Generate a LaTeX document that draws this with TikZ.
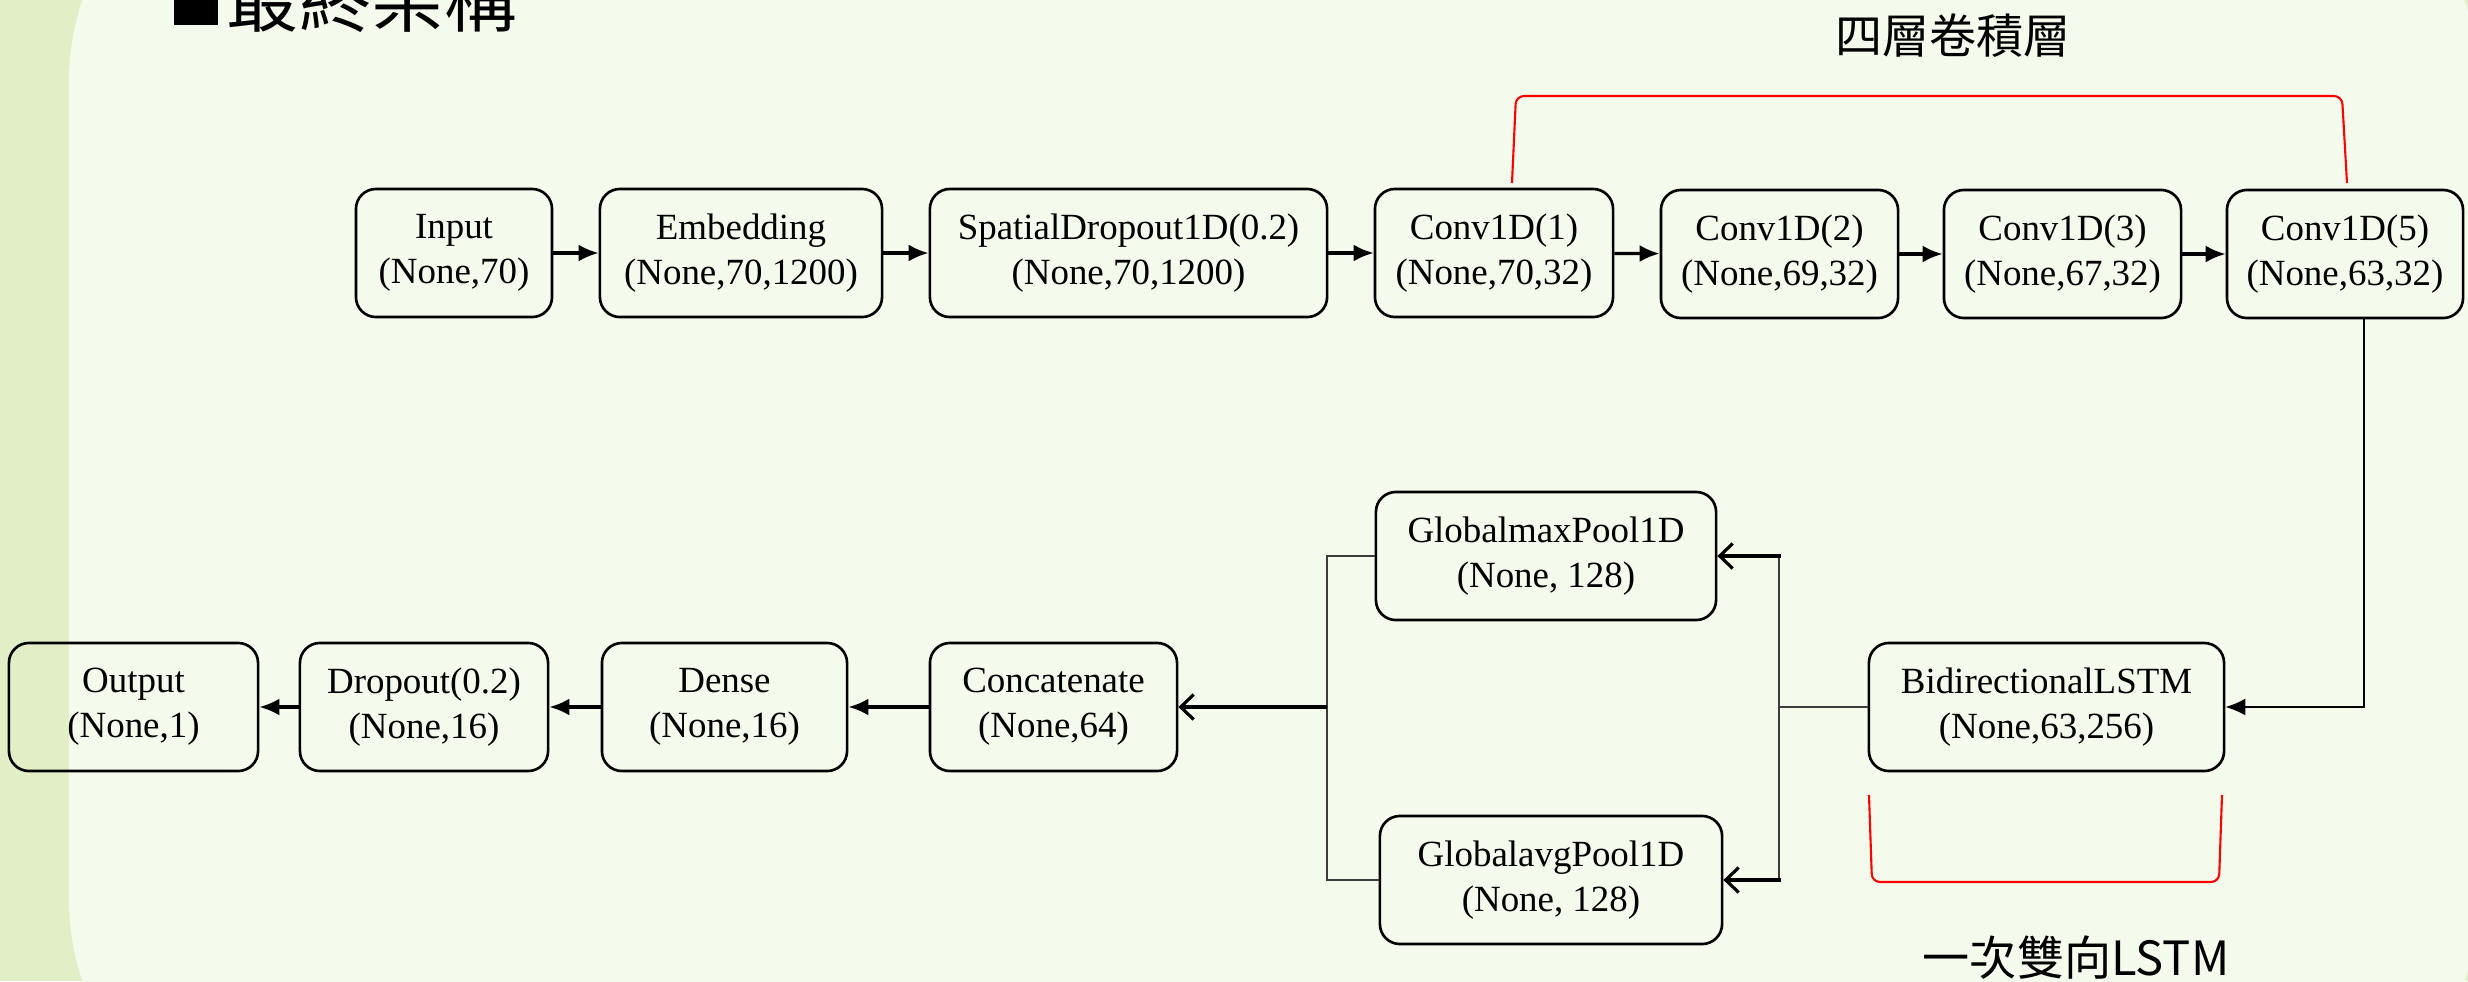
\documentclass[tikz,border=0pt]{standalone}
\usepackage{fontspec}
\setmainfont{Liberation Serif}
\newfontfamily\cjk{Noto Sans CJK TC}
\usetikzlibrary{arrows.meta}
\definecolor{stripgreen}{RGB}{225,238,198}
\definecolor{panelgreen}{RGB}{244,250,236}
\definecolor{wire}{RGB}{60,60,60}
\tikzset{
  layer/.style={draw, line width=0.75pt, rounded corners=0.2cm, align=center,
    inner sep=0pt, minimum height=1.28cm,
    font=\fontsize{10.5pt}{12.9pt}\selectfont},
  flow/.style={line width=0.9pt, -{Latex[length=0.2cm,width=0.17cm]}},
  drop/.style={line width=0.5pt, -{Latex[length=0.2cm,width=0.17cm]}},
  split/.style={line width=0.5pt, draw=wire},
  merge/.style={line width=0.9pt, -{Straight Barb[length=0.13cm,width=0.25cm]}},
  brace/.style={red, line width=0.6pt, rounded corners=0.08cm},
  caption/.style={font=\cjk\fontsize{13.4pt}{15pt}\selectfont, inner sep=0pt}
}
\begin{document}
\begin{tikzpicture}[x=0.01cm,y=-0.01cm]
\useasboundingbox (0,0) rectangle (2468,981);
\clip (0,0) rectangle (2468,981);
% slide background
\fill[stripgreen] (0,0) rectangle (2468,981);
\fill[panelgreen, rounded corners=2.5cm] (69,-169) rectangle (2478,1150);

% heading
\fill (174,-19) rectangle (218,25);
\node[anchor=west, inner sep=0pt, font=\cjk\fontsize{20.6pt}{22pt}\selectfont] (title) at (226,-1) {最終架構};

% first row
\node[layer, minimum width=1.96cm] (in)   at (454,253)    {Input\\(None,70)};
\node[layer, minimum width=2.82cm] (emb)  at (741,253)    {Embedding\\(None,70,1200)};
\node[layer, minimum width=3.97cm] (sdo)  at (1128.5,253) {SpatialDropout1D(0.2)\\(None,70,1200)};
\node[layer, minimum width=2.38cm] (c1)   at (1494,253)   {Conv1D(1)\\(None,70,32)};
\node[layer, minimum width=2.37cm] (c2)   at (1779.5,254) {Conv1D(2)\\(None,69,32)};
\node[layer, minimum width=2.37cm] (c3)   at (2062.5,254) {Conv1D(3)\\(None,67,32)};
\node[layer, minimum width=2.36cm] (c5)   at (2345,254)   {Conv1D(5)\\(None,63,32)};

% second row
\node[layer, minimum width=2.49cm] (out)  at (133.5,707)  {Output\\(None,1)};
\node[layer, minimum width=2.48cm] (dro)  at (424,707)    {Dropout(0.2)\\(None,16)};
\node[layer, minimum width=2.45cm] (den)  at (724.5,707)  {Dense\\(None,16)};
\node[layer, minimum width=2.47cm] (cat)  at (1053.5,707) {Concatenate\\(None,64)};
\node[layer, minimum width=3.55cm] (bi)   at (2046.5,707) {BidirectionalLSTM\\(None,63,256)};

% pooling branches
\node[layer, minimum width=3.40cm] (gmax) at (1546,556)   {GlobalmaxPool1D\\(None, 128)};
\node[layer, minimum width=3.42cm] (gavg) at (1551,880)   {GlobalavgPool1D\\(None, 128)};

% connectors
\draw[flow] (in) -- (emb);
\draw[flow] (emb) -- (sdo);
\draw[flow] (sdo) -- (c1);
\draw[flow] (c1) -- (c2);
\draw[flow] (c2) -- (c3);
\draw[flow] (c3) -- (c5);
\draw[drop] ([xshift=0.19cm]c5.south) |- (bi.east);

\coordinate (fork) at (1779,707);
\coordinate (join) at (1327,707);
\draw[split] (bi.west) -- (fork);
\draw[split] (fork) -- (fork |- gmax.east);
\draw[split] (fork) -- (fork |- gavg.east);
\draw[merge] ([xshift=0.02cm]fork |- gmax.east) -- (gmax.east);
\draw[merge] ([xshift=0.02cm]fork |- gavg.east) -- (gavg.east);
\draw[split] (gmax.west) -| (join);
\draw[split] (gavg.west) -| (join);
\draw[merge] (join) -- (cat.east);

\draw[flow] (cat) -- (den);
\draw[flow] (den) -- (dro);
\draw[flow] (dro) -- (out);

% group brackets and their captions
\draw[brace] (1512,183) -- (1516,96) -- (2342,96) -- (2347,183);
\node[caption] (convcap) at (1953,36) {四層卷積層};
\draw[brace] (1869,795) -- (1872,882) -- (2219,882) -- (2222,795);
\node[caption] (lstmcap) at (2076,958) {一次雙向LSTM};
\end{tikzpicture}
\end{document}
